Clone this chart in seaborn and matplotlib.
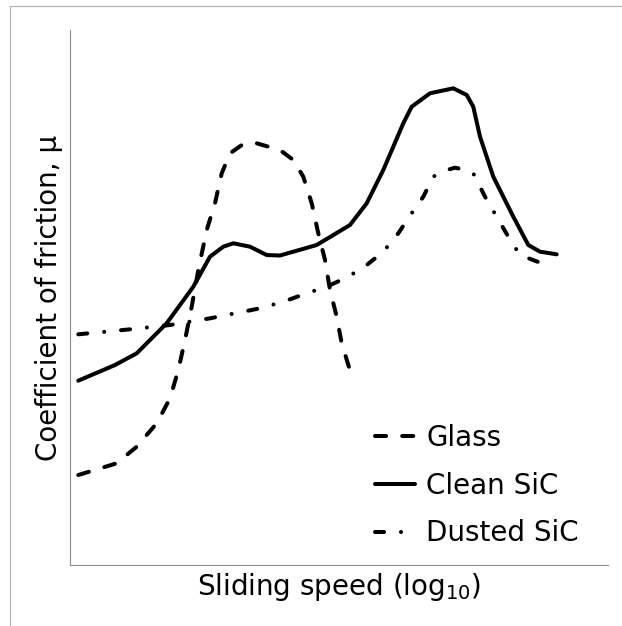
import matplotlib
matplotlib.use("Agg")
import matplotlib.pyplot as plt
import seaborn as sns
import pandas as pd
from matplotlib.patches import Rectangle

# Data (arbitrary units)
glass_x = [0.154, 0.868, 1.240, 1.612, 1.859, 2.013, 2.138, 2.262, 2.385, 2.541, 2.695,
           2.820, 2.974, 3.221, 3.470, 3.903, 4.151, 4.336, 4.493, 4.615, 4.740, 4.833,
           4.957, 5.050, 5.236]
glass_y = [1.682, 1.901, 2.211, 2.649, 3.116, 3.645, 4.206, 4.828, 5.514, 6.262, 6.761,
           7.321, 7.695, 7.869, 7.882, 7.757, 7.570, 7.258, 6.761, 6.200, 5.701, 5.140,
           4.641, 4.144, 3.533]

clean_x = [0.154, 0.836, 1.240, 1.797, 2.292, 2.602, 2.849, 3.035, 3.346, 3.532, 3.656,
           3.903, 4.585, 5.204, 5.515, 5.823, 6.195, 6.351, 6.691, 7.125, 7.374, 7.496,
           7.621, 7.868, 8.240, 8.519, 8.736, 9.046]
clean_y = [3.445, 3.738, 3.957, 4.518, 5.202, 5.763, 5.950, 6.013, 5.950, 5.856, 5.794,
           5.785, 5.981, 6.355, 6.761, 7.383, 8.256, 8.566, 8.817, 8.910, 8.785, 8.566,
           8.006, 7.258, 6.510, 5.981, 5.856, 5.807]

dusted_x = [0.154, 1.177, 1.859, 2.602, 3.532, 3.965, 4.400, 4.771, 5.173, 5.515, 5.823,
            6.102, 6.351, 6.567, 6.753, 6.933, 7.156, 7.361, 7.496, 7.714, 7.931, 8.147,
            8.364, 8.768]
dusted_y = [4.312, 4.411, 4.486, 4.611, 4.798, 4.921, 5.079, 5.202, 5.389, 5.607, 5.856,
            6.200, 6.574, 6.884, 7.258, 7.364, 7.426, 7.383, 7.321, 6.884, 6.510, 6.136,
            5.794, 5.639]

labels = ["Glass", "Clean SiC", "Dusted SiC"]

W, H = 622, 626
fig = plt.figure(figsize=(W / 100, H / 100), dpi=100)
sns.set_style("white")
plt.rcParams['font.family'] = ['DejaVu Sans']
plt.rcParams['text.color'] = 'black'
plt.rcParams['axes.labelcolor'] = 'black'

# axes: left 70, right 608, top 30, bottom 565 (pixels)
ax = fig.add_axes([70 / W, (H - 565) / H, 538 / W, 535 / H])

LW = 2.9
series = [
    (glass_x, glass_y, labels[0], (0, (2.75, 4.0))),
    (clean_x, clean_y, labels[1], "-"),
    (dusted_x, dusted_y, labels[2], (0, (2.25, 4.2, 0.01, 4.2))),
]
for xs, ys, lab, ls in series:
    df = pd.DataFrame({"x": xs, "y": ys})
    sns.lineplot(data=df, x="x", y="y", ax=ax, color="black", lw=LW,
                 linestyle=ls, dash_capstyle="round", solid_capstyle="round",
                 dash_joinstyle="round", solid_joinstyle="round",
                 label=lab, sort=False, estimator=None)

ax.set_xlim(0, 10)
ax.set_ylim(0, 10)
ax.set_xticks([])
ax.set_yticks([])
for s in ["top", "right"]:
    ax.spines[s].set_visible(False)
for s in ["left", "bottom"]:
    ax.spines[s].set_color("#8c8c8c")
    ax.spines[s].set_linewidth(0.8)

ax.set_xlabel(r"Sliding speed (log$_{10}$)", fontsize=20, labelpad=4, color="black")
ax.set_ylabel("Coefficient of friction, μ", fontsize=20, labelpad=5, color="black")

leg = ax.legend(loc="upper left", bbox_to_anchor=(375 / W, 1 - 424 / H),
                bbox_transform=fig.transFigure, frameon=False, borderpad=0,
                borderaxespad=0, fontsize=20, handlelength=1.44,
                handletextpad=0.4, labelspacing=0.71)
for t in leg.get_texts():
    t.set_color("black")

fig.patches.append(Rectangle((10 / W, -0.05), 1.2, 1 - 6 / H + 0.05,
                             transform=fig.transFigure, fill=False,
                             edgecolor="#b0b0b0", lw=0.8))

fig.savefig("out.png", dpi=100)
